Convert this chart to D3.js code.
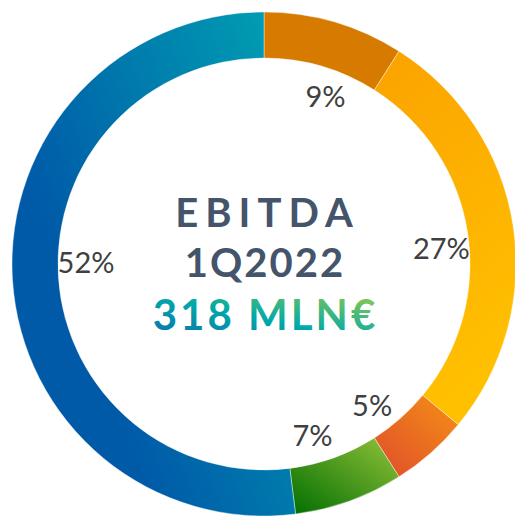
<!DOCTYPE html>
<html>
<head>
<meta charset="UTF-8">
<title>EBITDA 1Q2022</title>
<script src="https://d3js.org/d3.v7.min.js"></script>
<style>
  html, body { margin: 0; padding: 0; background: #fff; }
</style>
</head>
<body>
<div id="chart"></div>
<script>
// share of EBITDA per business area, clockwise from 12 o'clock
const categories = ['A', 'B', 'C', 'D', 'E'];
const values = [9, 27, 5, 7, 52];
const labels = ['9%', '27%', '5%', '7%', '52%'];
const titleLines = ['EBITDA', '1Q2022'];
const totalLabel = '318 MLN€';

const W = 515, H = 516;
const cx = 264, cy = 264;
const outerR = 252, innerR = 206, labelR = 178;
const labelTurn = 4 * Math.PI / 180; // labels sit a little clockwise of the slice middle

// gradient per slice
const fills = [
  {x1: 0, y1: 0, x2: 1, y2: 1, stops: ['#d77b00', '#d77b00']},
  {x1: 0, y1: 0, x2: 0.3, y2: 1, stops: ['#fba200', '#ffc000']},
  {x1: 1, y1: 0, x2: 0, y2: 1, stops: ['#f59015', '#df4c2c']},
  {x1: 1, y1: 0, x2: 0, y2: 1, stops: ['#93c23a', '#006e00']},
  {x1: 1, y1: 0, x2: 0.2, y2: 0.55, stops: ['#00a3b3', '#005aa8']}
];

const svg = d3.select('#chart').append('svg')
  .attr('width', W).attr('height', H);

const defs = svg.append('defs');
fills.forEach((f, i) => {
  const g = defs.append('linearGradient').attr('id', 'g' + i)
    .attr('x1', f.x1).attr('y1', f.y1).attr('x2', f.x2).attr('y2', f.y2);
  f.stops.forEach((c, j) => g.append('stop')
    .attr('offset', j / (f.stops.length - 1)).attr('stop-color', c));
});

const tg = defs.append('linearGradient').attr('id', 'tg')
  .attr('x1', 0).attr('y1', 1).attr('x2', 1).attr('y2', 0);
tg.append('stop').attr('offset', 0).attr('stop-color', '#0a6fae');
tg.append('stop').attr('offset', 0.45).attr('stop-color', '#00a9a9');
tg.append('stop').attr('offset', 1).attr('stop-color', '#a4cf3a');

const pie = d3.pie().sort(null).value(d => d);
const arcs = pie(values);
const arc = d3.arc().innerRadius(innerR).outerRadius(outerR);
const labelArc = d3.arc().innerRadius(labelR).outerRadius(labelR);

const g = svg.append('g').attr('transform', `translate(${cx},${cy})`);

g.selectAll('path').data(arcs).enter().append('path')
  .attr('d', arc)
  .attr('fill', (d, i) => `url(#g${i})`)
  .attr('stroke', '#fff').attr('stroke-width', 0.4);

g.selectAll('text.pct').data(arcs).enter().append('text')
  .attr('class', 'pct')
  .attr('transform', d => `translate(${labelArc.centroid({startAngle: d.startAngle + labelTurn, endAngle: d.endAngle + labelTurn})})`)
  .attr('text-anchor', 'middle').attr('dy', '0.36em')
  .attr('font-family', 'Lato, sans-serif').attr('font-size', 29)
  .attr('fill', '#404040')
  .text((d, i) => labels[i]);

// centre text
g.selectAll('text.title').data(titleLines).enter().append('text')
  .attr('class', 'title')
  .attr('x', (d, i) => i ? 1 : 3.5).attr('y', (d, i) => -37 + i * 50)
  .attr('text-anchor', 'middle')
  .attr('font-family', 'Lato, sans-serif').attr('font-weight', 700)
  .attr('font-size', 40).attr('letter-spacing', (d, i) => i ? 2 : 7)
  .attr('fill', '#44546a')
  .text(d => d);

g.append('text')
  .attr('x', 1.5).attr('y', 66)
  .attr('text-anchor', 'middle')
  .attr('font-family', 'Lato, sans-serif').attr('font-weight', 700)
  .attr('font-size', 42).attr('letter-spacing', 3)
  .attr('fill', 'url(#tg)')
  .text(totalLabel);
</script>
</body>
</html>
